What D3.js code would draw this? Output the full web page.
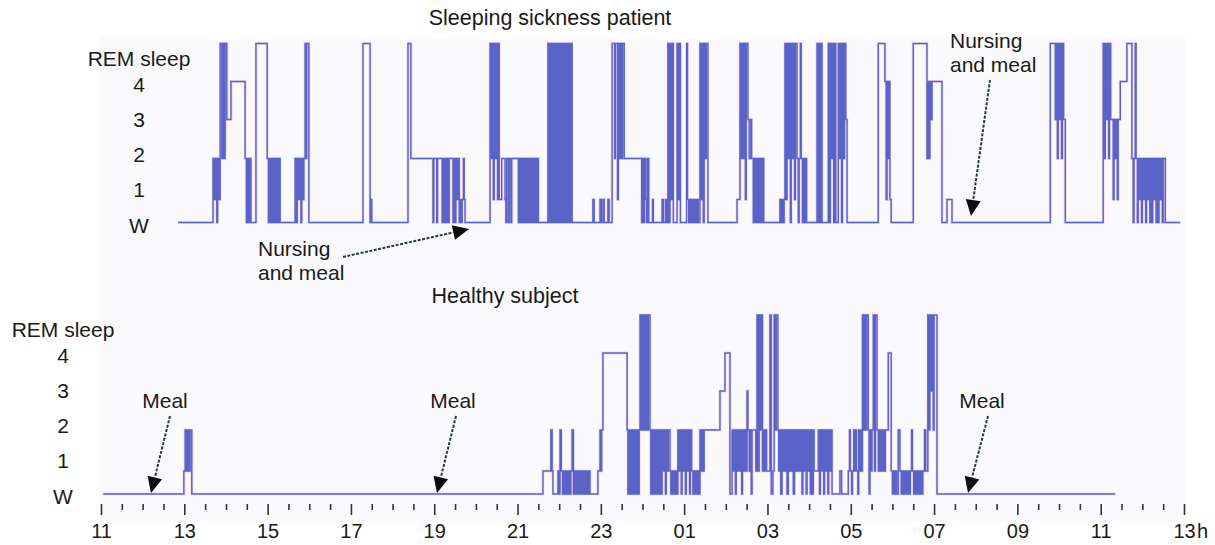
<!DOCTYPE html>
<html>
<head>
<meta charset="utf-8">
<script src="https://cdn.jsdelivr.net/npm/d3@7/dist/d3.min.js"></script>
<style>
  html, body { margin: 0; padding: 0; background: #ffffff; }
  svg { display: block; font-family: "Liberation Sans", Arial, Helvetica, sans-serif; }
</style>
</head>
<body>
<svg id="chart" width="1215" height="545"></svg>
<script>
// ---------- DATA ----------
// Stage codes: 0 = W, 1..4 = sleep stages, 5 = REM sleep. Time in clock hours (24+ = next day)
const stageLabels = ["W", "1", "2", "3", "4", "REM sleep"];
const majorTicks = [11, 13, 15, 17, 19, 21, 23, 25, 27, 29, 31, 33, 35, 37];
const tickLabels = ["11", "13", "15", "17", "19", "21", "23", "01", "03", "05", "07", "09", "11", "13"];

const patientHypnogram = [
[12.85,0],
[13.69,2],[13.72,1],[13.75,2],[13.78,0],[13.80,2],[13.83,1],
[13.86,5],[13.90,2],[13.93,5],[13.96,2],[13.98,5],[14.02,3],[14.12,4],
[14.46,2],[14.49,0],[14.52,2],[14.55,0],[14.57,2],[14.60,0],
[14.72,5],[14.99,2],
[15.02,0],[15.05,2],[15.08,0],[15.10,2],[15.13,0],[15.15,2],[15.18,0],[15.20,2],[15.22,0],[15.24,2],[15.26,0],[15.28,2],[15.30,0],
[15.66,2],[15.69,0],[15.71,2],[15.74,1],[15.77,2],[15.80,0],[15.82,2],[15.85,1],[15.87,2],
[15.90,5],[15.92,2],[15.94,5],[15.99,0],
[17.29,5],[17.46,0],[17.47,1],[17.50,0],
[18.37,5],[18.44,2],
[18.97,0],[18.99,2],[19.06,0],[19.08,2],[19.19,0],[19.21,2],[19.24,0],[19.26,2],[19.29,0],[19.31,2],[19.34,0],[19.36,2],[19.45,0],[19.47,2],[19.50,0],[19.52,2],[19.55,1],[19.58,2],[19.60,0],[19.62,1],[19.65,0],[19.67,1],[19.70,2],[19.72,1],[19.74,0],
[20.34,5],[20.37,2],[20.39,5],[20.42,1],[20.44,5],[20.47,2],[20.49,5],[20.52,1],[20.54,5],[20.56,1],
[20.62,2],[20.70,1],[20.72,0],[20.74,2],[20.78,0],[20.80,2],[20.84,0],[20.86,2],
[21.02,0],[21.05,2],[21.08,0],[21.11,2],[21.14,0],[21.17,2],[21.20,0],[21.23,2],[21.26,0],[21.29,2],[21.32,0],[21.35,2],[21.38,0],[21.41,2],[21.44,0],[21.47,2],[21.50,0],
[21.73,5],[21.76,0],[21.78,5],[21.81,0],[21.83,5],[21.86,0],[21.88,5],[21.90,0],[21.93,5],[21.96,0],[21.98,5],[22.01,0],[22.03,5],[22.06,0],[22.08,5],[22.11,0],[22.13,5],[22.16,0],[22.18,5],[22.21,0],[22.23,5],[22.26,0],[22.28,5],[22.31,0],
[22.81,1],[22.84,0],[22.98,1],[23.01,0],[23.05,1],[23.08,0],[23.17,1],[23.20,0],
[23.27,5],[23.33,2],[23.35,5],[23.40,1],[23.42,5],[23.45,2],[23.47,5],[23.50,2],[23.52,5],[23.56,2],
[23.98,0],[24.00,2],[24.03,0],[24.05,2],[24.08,1],[24.10,0],[24.12,2],[24.15,0],
[24.24,1],[24.26,0],[24.47,1],[24.50,0],[24.55,1],[24.58,0],
[24.61,5],[24.64,0],[24.66,5],[24.69,1],[24.71,5],[24.74,0],
[24.83,5],[24.86,1],[24.88,5],[24.91,0],
[25.06,5],[25.08,1],[25.11,0],[25.13,1],[25.16,0],[25.19,1],[25.22,0],[25.25,1],[25.28,0],[25.31,1],[25.34,0],
[25.38,5],[25.41,1],[25.43,5],[25.46,0],[25.48,5],[25.51,2],[25.53,5],[25.57,0],
[26.27,1],[26.34,5],[26.37,2],[26.39,5],[26.42,2],[26.44,5],[26.47,1],[26.49,5],[26.53,3],
[26.56,2],[26.60,3],[26.62,2],[26.66,0],[26.68,2],[26.71,0],[26.73,2],[26.76,0],[26.78,2],[26.81,0],[26.83,2],[26.86,0],[26.88,2],[26.91,0],
[27.30,1],[27.33,0],[27.35,1],[27.38,0],[27.40,1],
[27.42,5],[27.45,1],[27.47,5],[27.50,2],[27.52,5],[27.55,0],[27.57,5],[27.60,2],[27.62,5],[27.65,1],[27.67,5],[27.71,2],
[27.74,0],[27.76,2],[27.79,5],[27.81,2],[27.84,0],[27.86,2],[27.89,0],[27.91,2],[27.94,0],
[28.19,5],[28.22,0],[28.24,5],[28.27,0],[28.29,5],[28.31,0],
[28.46,5],[28.49,0],[28.51,5],[28.54,2],[28.56,5],[28.59,0],[28.61,5],[28.64,0],
[28.70,5],[28.73,2],[28.75,5],[28.78,0],[28.80,5],[28.83,2],[28.85,5],[28.88,3],[28.91,0],
[29.66,5],[29.82,4],[29.85,1],[29.87,4],[29.89,2],[29.91,4],[29.94,1],[29.97,0],
[30.50,5],[30.83,2],[30.85,4],[30.87,2],[30.90,4],[30.92,3],[30.95,4],[31.19,0],
[31.31,1],[31.43,0],
[33.79,5],[33.91,3],[33.93,5],[33.96,2],[33.98,5],[34.01,3],[34.03,5],[34.06,2],[34.08,5],[34.11,3],[34.15,0],
[35.06,5],[35.09,2],[35.11,5],[35.14,3],[35.16,5],[35.19,2],[35.21,5],[35.24,3],
[35.30,1],[35.32,3],[35.35,2],[35.37,3],[35.40,1],[35.42,3],[35.47,4],
[35.63,5],[35.75,2],[35.78,0],[35.80,2],[35.83,5],[35.85,2],[35.88,0],[35.90,2],[35.93,1],[35.95,2],[35.98,0],[36.00,2],[36.03,1],[36.05,2],[36.08,0],[36.10,2],[36.13,1],[36.15,2],[36.18,0],[36.20,2],[36.23,0],[36.25,2],[36.28,1],[36.30,2],[36.33,0],[36.35,2],[36.38,0],[36.40,2],[36.43,1],[36.45,2],[36.48,0],[36.50,2],[36.55,0],
[36.91,0]
];

const healthyHypnogram = [
[11.05,0],
[12.99,1],[13.02,2],[13.04,1],[13.06,2],[13.08,1],[13.10,2],[13.12,1],[13.14,2],[13.18,0],
[21.61,1],[21.80,2],[21.83,1],[21.85,0],
[21.97,1],[22.00,0],[22.02,2],[22.05,1],[22.08,0],[22.10,1],[22.13,0],[22.16,1],[22.19,0],[22.22,1],[22.25,0],[22.28,1],[22.31,2],[22.34,0],[22.36,1],[22.39,0],[22.42,1],[22.45,0],[22.48,1],[22.51,0],[22.54,1],[22.57,0],[22.60,1],[22.63,0],[22.66,1],[22.69,0],[22.72,1],[22.74,0],
[22.93,1],[22.98,2],[23.00,1],[23.02,2],[23.05,4],[23.63,2],
[23.65,0],[23.67,2],[23.70,0],[23.72,2],[23.75,0],[23.77,2],[23.80,0],[23.82,2],[23.85,0],[23.87,2],[23.90,0],[23.92,2],
[23.94,5],[23.97,2],[23.99,5],[24.02,2],[24.04,5],[24.07,2],[24.09,5],[24.12,2],[24.14,5],[24.18,2],
[24.20,0],[24.22,2],[24.25,0],[24.27,2],[24.30,0],[24.32,2],[24.35,0],[24.37,2],[24.40,0],[24.42,2],[24.45,0],[24.47,2],[24.50,1],[24.52,2],[24.55,0],[24.57,2],[24.60,1],[24.62,2],
[24.66,1],[24.68,0],[24.70,1],[24.73,0],[24.75,1],[24.78,0],[24.80,1],[24.83,0],
[24.85,2],[24.88,1],[24.90,2],[24.93,0],[24.95,2],[24.98,1],[25.00,2],[25.03,0],[25.05,2],[25.08,1],[25.10,2],[25.13,0],[25.15,2],[25.18,1],
[25.21,0],[25.23,1],[25.26,0],[25.28,1],[25.31,0],[25.33,1],[25.36,0],
[25.38,2],[25.41,1],[25.43,2],[25.46,1],[25.48,2],
[25.86,3],[25.98,4],[26.10,0],
[26.15,2],[26.18,1],[26.20,2],[26.23,0],[26.25,2],[26.28,1],[26.30,2],[26.33,1],[26.35,2],[26.38,0],[26.40,2],[26.43,1],[26.45,2],[26.48,1],[26.51,3],[26.53,2],[26.56,1],[26.58,2],[26.61,0],[26.63,2],
[26.72,1],[26.75,5],[26.78,1],[26.80,5],[26.83,2],[26.85,5],[26.88,1],[26.90,2],
[26.93,1],[26.95,2],[26.98,1],
[27.06,5],[27.09,0],[27.13,1],[27.16,5],[27.19,2],[27.21,5],[27.25,2],
[27.27,1],[27.30,2],[27.32,0],[27.35,2],[27.37,1],[27.40,2],[27.42,1],[27.45,2],[27.47,0],[27.50,2],[27.52,1],[27.55,2],[27.57,1],[27.60,2],[27.62,0],[27.65,2],[27.67,1],[27.70,2],[27.72,1],[27.75,2],
[27.78,1],[27.80,2],[27.83,0],[27.85,2],[27.88,1],[27.90,2],[27.93,0],[27.95,2],[27.98,1],[28.00,2],[28.03,0],[28.05,2],[28.08,0],[28.10,2],
[28.12,1],
[28.22,2],[28.25,0],[28.27,2],[28.30,1],[28.32,2],[28.35,0],[28.37,2],[28.40,1],[28.42,2],[28.45,0],[28.47,2],[28.50,1],[28.52,2],[28.55,0],
[28.74,1],[28.78,0],
[28.94,1],[28.97,2],[28.99,1],[29.02,0],[29.04,1],[29.07,2],[29.09,1],[29.12,2],[29.14,1],[29.17,0],[29.19,2],[29.22,1],[29.24,2],[29.27,1],
[29.28,5],[29.31,2],[29.33,5],[29.36,2],[29.38,5],[29.42,2],
[29.44,0],[29.46,2],[29.49,1],[29.51,2],
[29.54,5],[29.57,1],[29.59,5],[29.63,2],
[29.66,1],[29.68,2],[29.71,1],[29.73,2],[29.76,1],[29.78,2],[29.81,1],[29.83,2],
[29.90,4],[29.97,1],
[30.00,0],[30.02,1],[30.05,0],[30.07,1],[30.10,0],[30.14,2],[30.18,1],[30.21,0],[30.23,1],[30.26,0],[30.28,1],[30.31,0],[30.33,1],[30.36,0],[30.38,1],[30.41,0],[30.43,1],[30.46,2],[30.48,1],[30.51,0],[30.53,1],[30.56,0],[30.58,1],[30.61,0],[30.63,1],[30.66,0],[30.68,1],[30.71,0],[30.73,1],[30.77,2],[30.80,1],
[30.85,5],[30.88,2],[30.90,5],[30.93,3],[30.95,5],[30.98,2],[31.00,5],[31.07,0],
[35.35,0]
];

// annotations: label lines and arrow (tail -> head) in screen layout
const annotations = [
  { lines: ["Nursing", "and meal"], tx: 258, ty: 256, anchor: "start", from: [343, 257], to: [469, 229] },
  { lines: ["Nursing", "and meal"], tx: 950, ty: 48, anchor: "start", from: [990, 80], to: [971, 216] },
  { lines: ["Meal"], tx: 165, ty: 408, anchor: "middle", from: [170, 416], to: [151, 493] },
  { lines: ["Meal"], tx: 453, ty: 408, anchor: "middle", from: [456, 416], to: [437, 493] },
  { lines: ["Meal"], tx: 982, ty: 408, anchor: "middle", from: [988, 416], to: [968, 493] }
];

// ---------- LAYOUT ----------
const svg = d3.select("#chart");
const x = d3.scaleLinear().domain([11, 37]).range([101, 1184]);
const stages = [0, 1, 2, 3, 4, 5];
const levelOffsets = [0, -23, -64, -103, -141, -179];   // vertical spacing of the stage levels
const labelOffsets = [10, -26, -61, -96, -131, -157];   // baselines of the stage labels

const panels = [
  { title: "Sleeping sickness patient", titleX: 550, titleY: 25, base: 222.5, labelX: 139, data: patientHypnogram },
  { title: "Healthy subject", titleX: 505, titleY: 303, base: 494, labelX: 63, data: healthyHypnogram }
];

// plot backdrop
svg.append("rect").attr("x", 100).attr("y", 38).attr("width", 1086).attr("height", 484)
  .attr("fill", "#fafafd");

panels.forEach(p => {
  const y = d3.scaleLinear().domain(stages).range(levelOffsets.map(o => p.base + o));
  const yLab = d3.scaleOrdinal().domain(stages).range(labelOffsets.map(o => p.base + o));

  svg.append("text").attr("x", p.titleX).attr("y", p.titleY)
    .attr("text-anchor", "middle").attr("font-size", 21.5).attr("fill", "#1a1a1a").text(p.title);

  svg.append("g").selectAll("text").data(stages).join("text")
    .attr("x", p.labelX).attr("y", d => yLab(d))
    .attr("text-anchor", "middle").attr("font-size", 21).attr("fill", "#1a1a1a")
    .text(d => stageLabels[d]);

  const line = d3.line().x(d => x(d[0])).y(d => y(d[1])).curve(d3.curveStepAfter);
  svg.append("path").datum(p.data).attr("d", line)
    .attr("fill", "none").attr("stroke", "#ecb8da").attr("stroke-opacity", 0.45).attr("stroke-width", 3);
  svg.append("path").datum(p.data).attr("d", line)
    .attr("fill", "none").attr("stroke", "#5963c8").attr("stroke-width", 1.45);
});

// time axis
const minorTicks = d3.range(11, 37.01, 0.5).filter(t => (t - 11) % 2 !== 0);
const axisG = svg.append("g").attr("transform", "translate(0,504)");
axisG.append("g").call(d3.axisBottom(x).tickValues(minorTicks).tickSize(6).tickFormat(""))
  .call(g => g.select(".domain").remove());
axisG.append("g").call(d3.axisBottom(x).tickValues(majorTicks).tickSize(11).tickPadding(9)
    .tickFormat((d, i) => tickLabels[i]))
  .call(g => g.select(".domain").remove());
axisG.selectAll(".tick line").attr("stroke", "#333").attr("stroke-width", 1.6);
axisG.selectAll(".tick text").attr("font-size", 20).attr("fill", "#1a1a1a")
  .attr("font-family", "Liberation Sans, Arial, sans-serif");
svg.append("text").attr("x", x(37) + 13).attr("y", 538).attr("font-size", 20).attr("fill", "#1a1a1a").text("h");

// annotations
annotations.forEach(a => {
  const t = svg.append("text").attr("x", a.tx).attr("y", a.ty).attr("text-anchor", a.anchor)
    .attr("font-size", 21).attr("fill", "#1a1a1a");
  a.lines.forEach((s, i) => t.append("tspan").attr("x", a.tx).attr("dy", i === 0 ? 0 : 24).text(s));
  const [x1, y1] = a.from, [x2, y2] = a.to;
  const ang = Math.atan2(y2 - y1, x2 - x1), L = 16, W = 7.5;
  const bx = x2 - L * Math.cos(ang), by = y2 - L * Math.sin(ang);
  svg.append("line").attr("x1", x1).attr("y1", y1).attr("x2", bx).attr("y2", by)
    .attr("stroke", "#26383c").attr("stroke-width", 2).attr("stroke-dasharray", "3,1.5");
  const px = -Math.sin(ang), py = Math.cos(ang);
  svg.append("path")
    .attr("d", `M${x2},${y2}L${bx + px * W},${by + py * W}L${bx - px * W},${by - py * W}Z`)
    .attr("fill", "#0d0d0d");
});
</script>
</body>
</html>
